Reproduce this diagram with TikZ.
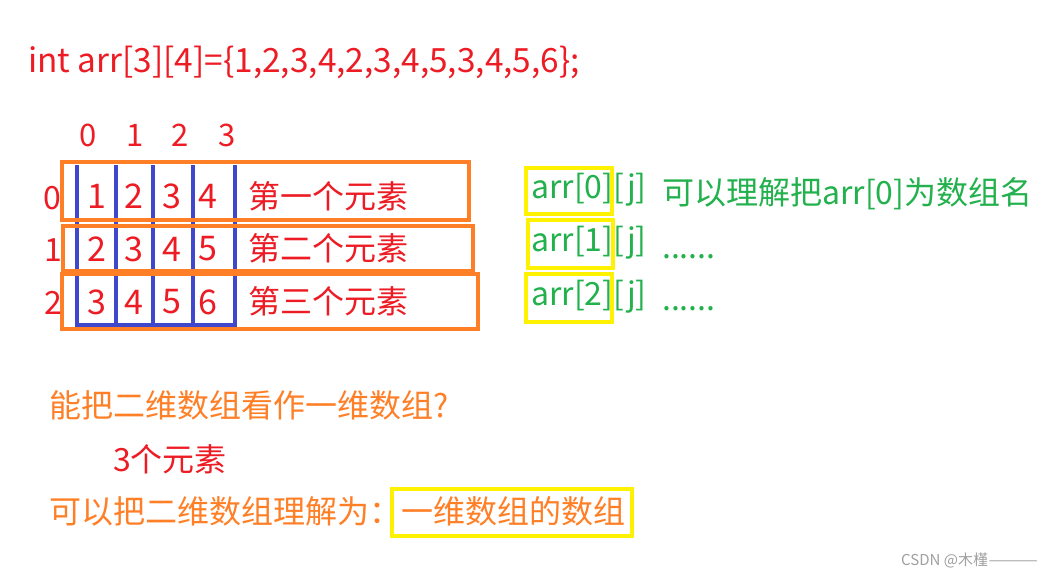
\documentclass[tikz,border=0pt]{standalone}
\usepackage{fontspec}
\setmainfont{Noto Sans CJK SC}
\definecolor{pred}{RGB}{237,28,36}
\definecolor{porange}{RGB}{255,127,39}
\definecolor{pblue}{RGB}{63,72,204}
\definecolor{pyellow}{RGB}{255,242,0}
\definecolor{pgreen}{RGB}{34,177,76}
\definecolor{wmgray}{RGB}{160,160,160}
\newcommand\myfs[1]{\fontsize{#1}{#1}\selectfont}
\begin{document}
\begin{tikzpicture}[x=1pt,y=-1pt,
  txt/.style={anchor=west,inner sep=0pt},
  ctr/.style={anchor=center,inner sep=0pt},
  redt/.style={text=pred},
  oranget/.style={text=porange},
  greent/.style={text=pgreen},
  obox/.style={draw=porange,line width=4.3pt},
  ybox/.style={draw=pyellow,line width=4.5pt},
  bline/.style={draw=pblue,line width=4pt}]
\useasboundingbox[fill=white] (0,0) rectangle (1053,578);

% title
\node[txt,redt,font=\myfs{33.4}] (title) at (28,62) {int arr[3][4]=\{1,2,3,4,2,3,4,5,3,4,5,6\};};

% column labels
\foreach \x/\t [count=\i] in {88/0,135/1,180/2,227/3}
  \node[ctr,redt,font=\myfs{31}] (col\i) at (\x,135) {\t};

% blue grid
\foreach \x in {77,116,153,193,235}
  \draw[bline] (\x,165) -- (\x,327);
\draw[bline] (77,325) -- (235,325);

% orange boxes
\draw[obox] (62,162) rectangle (469,220);
\draw[obox] (63,226) rectangle (473,271);
\draw[obox] (62,274) rectangle (478,329);

% row labels
\node[ctr,redt,font=\myfs{32}] (row0) at (52,198) {0};
\node[ctr,redt,font=\myfs{32}] (row1) at (53,250) {1};
\node[ctr,redt,font=\myfs{32}] (row2) at (53,303) {2};

% cells
\foreach \y/\a/\b/\c/\d [count=\r] in {196/1/2/3/4,249/2/3/4/5,302/3/4/5/6}{
  \node[ctr,redt,font=\myfs{34}] (c\r a) at (97,\y) {\a};
  \node[ctr,redt,font=\myfs{34}] (c\r b) at (134,\y) {\b};
  \node[ctr,redt,font=\myfs{34}] (c\r c) at (172,\y) {\c};
  \node[ctr,redt,font=\myfs{34}] (c\r d) at (208,\y) {\d};
}

% row descriptions
\node[txt,redt,font=\myfs{32}] (d0) at (248,196) {第一个元素};
\node[txt,redt,font=\myfs{32}] (d1) at (248,248) {第二个元素};
\node[txt,redt,font=\myfs{32}] (d2) at (248,301) {第三个元素};

% right side
\draw[ybox] (526,168) rectangle (612,214);
\draw[ybox] (528,220) rectangle (613,268);
\draw[ybox] (526,274) rectangle (612,322);
\node[txt,greent,font=\myfs{32}] (a0) at (531,190) {arr[0][j]};
\node[txt,greent,font=\myfs{32}] (a1) at (531,243) {arr[1][j]};
\node[txt,greent,font=\myfs{32}] (a2) at (531,297) {arr[2][j]};
\node[txt,greent,font=\myfs{32}] (n0) at (662,194) {可以理解把arr[0]为数组名};
\node[anchor=base west,inner sep=0pt,greent,font=\myfs{32}] (n1) at (662,258) {......};
\node[anchor=base west,inner sep=0pt,greent,font=\myfs{32}] (n2) at (662,310) {......};

% bottom
\node[txt,oranget,font=\myfs{32}] (q) at (49,405) {能把二维数组看作一维数组?};
\node[txt,redt,font=\myfs{32}] (three) at (113,459) {3个元素};
\node[txt,oranget,font=\myfs{32}] (ans) at (49,511) {可以把二维数组理解为：};
\draw[ybox] (392,489) rectangle (632,536);
\node[txt,oranget,font=\myfs{32}] (ans2) at (401,511) {一维数组的数组};

% watermark
\node[txt,text=wmgray,font=\myfs{15}] (wm) at (901,560) {CSDN @木槿\scalebox{2}[1]{——}};
\end{tikzpicture}
\end{document}
